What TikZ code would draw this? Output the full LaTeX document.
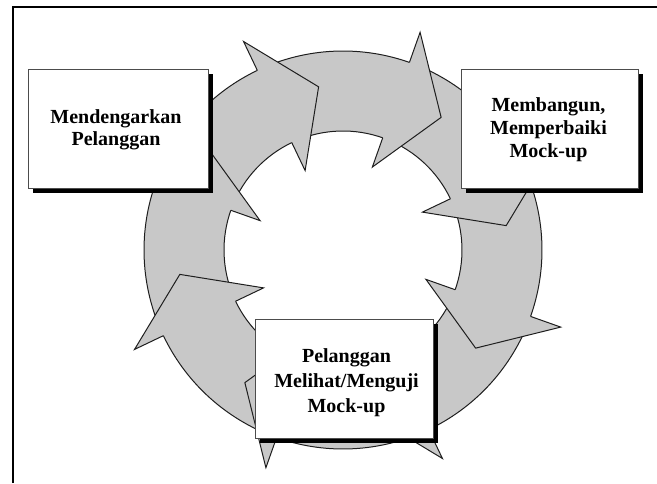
\documentclass[tikz,border=0pt]{standalone}
\usepackage{fontspec}
\setmainfont{Liberation Serif}
\usetikzlibrary{calc,shadows}
\definecolor{ringgray}{RGB}{200,200,200}
\definecolor{edgegray}{RGB}{30,30,30}
\tikzset{
  arrowedge/.style={draw=edgegray, line width=1pt, line join=miter},
  cardbox/.style={draw=black!70, line width=0.9pt, fill=white,
    minimum width=#1, minimum height=119pt, inner sep=0pt,
    drop shadow={shadow xshift=5pt, shadow yshift=-5pt, fill=black, opacity=1}},
  cardtext/.style={inner sep=0pt, align=center,
    font=\bfseries\fontsize{20}{#1}\selectfont},
  frameline/.style={line width=2pt, draw=black}
}
\begin{document}
\begin{tikzpicture}[x=1pt,y=1pt]
\useasboundingbox (0,0) rectangle (657,483);
% outer frame (left and top edges)
\draw[frameline] (13,0) -- (13,476) -- (657,476);

% centre of the cycle of eight curved arrows
\coordinate (C) at (343,233);

% arrow bodies: annular sectors between r=119 and r=199
\foreach \k in {0,...,7}{
  \pgfmathsetmacro\tip{98.5-45*\k}
  \pgfmathsetmacro\tail{\tip+57}
  \pgfmathsetmacro\stop{\tip+14}
  \fill[ringgray] ($(C)+(\tail:199)$) arc[start angle=\tail, end angle=\stop, radius=199pt]
    -- ($(C)+(\stop:119)$) arc[start angle=\stop, end angle=\tail, radius=119pt] -- cycle;
  \draw[arrowedge] ($(C)+(\tail:199)$) arc[start angle=\tail, end angle=\stop, radius=199pt];
  \draw[arrowedge] ($(C)+(\tail:119)$) arc[start angle=\tail, end angle=\stop, radius=119pt];
}

% arrow heads, drawn over the tail of the following arrow
\foreach \k in {0,...,7}{
  \pgfmathsetmacro\tip{98.5-45*\k}
  \pgfmathsetmacro\base{\tip+17}
  \fill[ringgray] ($(C)+(\base:231)$) -- ($(C)+(\tip:165)$) -- ($(C)+(\base:88)$) -- cycle;
  \draw[arrowedge] ($(C)+(\base:199)$) -- ($(C)+(\base:231)$) -- ($(C)+(\tip:165)$)
    -- ($(C)+(\base:88)$) -- ($(C)+(\base:119)$);
}

% the three stages
\node[cardbox=180pt] (listen) at (118,354.5) {};
\node[cardbox=177pt] (build) at (549.5,354.5) {};
\node[cardbox=178pt] (test) at (344,104.5) {};

\node[cardtext=22] (listentext) at (116,353) {Mendengarkan\\Pelanggan};
\node[cardtext=23] (buildtext) at (548.5,353) {Membangun,\\Memperbaiki\\Mock-up};
\node[cardtext=25] (testtext) at (346.5,100) {Pelanggan\\Melihat/Menguji\\Mock-up};
\end{tikzpicture}
\end{document}
